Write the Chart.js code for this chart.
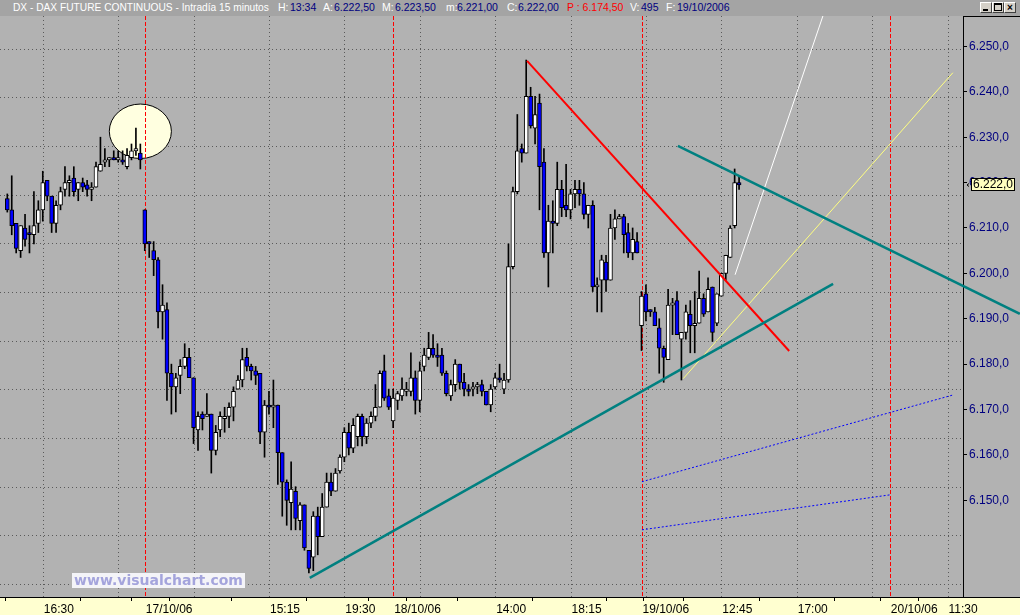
<!DOCTYPE html>
<html lang="es">
<head>
<meta charset="utf-8">
<title>DX - DAX FUTURE CONTINUOUS - Intradía 15 minutos</title>
<script src="https://cdn.jsdelivr.net/npm/chart.js@4.4.1/dist/chart.umd.min.js"></script>
<style>
  html, body { margin: 0; padding: 0; background: #b2b2b2; }
  #wrap { position: relative; width: 1020px; height: 615px; overflow: hidden; background: #b2b2b2; font-family: Arial, "Liberation Sans", sans-serif; }
  #bar { position: absolute; left: 0; top: 0; width: 1020px; height: 16px; background: #a4a4a4; font-size: 10.5px; line-height: 15px; }
  #bar span { position: absolute; top: 0; white-space: nowrap; }
  .lb { color: #ffffff; }
  .vl { color: #000080; }
  .rd { color: #ff0000; }
  .btn { position: absolute; top: 2px; width: 10px; height: 9px; background: #d4d0c8; border: 1px solid; border-color: #ffffff #404040 #404040 #ffffff; }
  #dax { position: absolute; left: 0; top: 16px; }
  #wm { position: absolute; left: 72px; top: 573px; width: 173px; height: 15px; background: #f4f4f8; color: #a4a4dc; font: bold 14px "DejaVu Sans", Verdana, sans-serif; line-height: 15px; text-align: center; }
</style>
</head>
<body>
<div id="wrap">
  <div id="bar">
    <span class="lb" style="left:13px;font-size:10.2px">DX - DAX FUTURE CONTINUOUS - Intradía 15 minutos</span>
    <span class="lb" style="left:278px">H:</span><span class="vl" style="left:290px">13:34</span>
    <span class="lb" style="left:323px">A:</span><span class="vl" style="left:334px">6.222,50</span>
    <span class="lb" style="left:382px">M:</span><span class="vl" style="left:395px">6.223,50</span>
    <span class="lb" style="left:446px">m:</span><span class="vl" style="left:457px">6.221,00</span>
    <span class="lb" style="left:507px">C:</span><span class="vl" style="left:518px">6.222,00</span>
    <span class="rd" style="left:567px">P : 6.174,50</span>
    <span class="lb" style="left:630px">V:</span><span class="vl" style="left:641px">495</span>
    <span class="lb" style="left:666px">F:</span><span class="vl" style="left:677px">19/10/2006</span>
    <div class="btn" style="left:980px"><div style="position:absolute;left:2px;top:6px;width:5px;height:2px;background:#000"></div></div>
    <div class="btn" style="left:992px"><div style="position:absolute;left:1px;top:0px;width:6px;height:5px;border:1px solid #000;border-top-width:2px"></div></div>
    <div class="btn" style="left:1004px;font:bold 10px Arial;line-height:9px;text-align:center;color:#000">&#215;</div>
  </div>
  <canvas id="dax" width="1020" height="599"></canvas>
  <div id="wm">www.visualchart.com</div>
</div>
<script>
// velas de 15 minutos, indice de barra 0..165 (16/10 tarde -> 19/10 13:45)
const opens = [6216.5, 6214.0, 6211.0, 6205.0, 6210.0, 6209.0, 6208.5, 6211.0, 6214.0, 6220.5,
  6217.0, 6211.0, 6215.0, 6218.5, 6220.0, 6221.0, 6218.5, 6220.0, 6219.5, 6218.5,
  6219.0, 6222.5, 6224.5, 6225.0, 6225.5, 6225.0, 6225.0, 6223.5, 6225.5, 6227.0,
  6226.5, 6214.0, 6207.0, 6205.0, 6203.0, 6191.5, 6192.0, 6178.0, 6175.0, 6177.5,
  6179.5, 6181.5, 6177.0, 6165.5, 6169.0, 6168.5, 6169.0, 6161.0, 6165.5, 6168.0,
  6168.5, 6170.5, 6174.5, 6176.5, 6181.5, 6179.5, 6178.5, 6178.0, 6165.0, 6171.0,
  6170.5, 6171.0, 6160.5, 6154.0, 6149.5, 6152.0, 6145.5, 6149.0, 6139.0, 6137.5,
  6146.5, 6142.0, 6148.5, 6154.0, 6152.0, 6156.5, 6159.5, 6165.0, 6161.5, 6164.0,
  6168.5, 6164.0, 6167.0, 6168.5, 6170.5, 6178.5, 6173.0, 6167.5, 6172.0, 6173.0,
  6174.0, 6174.0, 6177.0, 6172.0, 6179.5, 6181.5, 6183.5, 6182.0, 6182.0, 6178.0,
  6173.0, 6175.5, 6180.0, 6176.0, 6174.5, 6174.5, 6175.0, 6175.5, 6174.0, 6171.0,
  6175.0, 6177.0, 6174.5, 6176.5, 6201.5, 6218.0, 6227.5, 6226.5, 6239.0, 6232.0,
  6237.5, 6224.5, 6204.5, 6211.5, 6211.0, 6218.5, 6215.0, 6214.0, 6217.5, 6218.5,
  6217.5, 6213.0, 6215.0, 6197.0, 6198.5, 6202.5, 6198.5, 6210.0, 6212.0, 6212.5,
  6209.0, 6204.5, 6207.0, 6188.5, 6195.5, 6192.0, 6191.5, 6188.0, 6183.5, 6181.0,
  6193.0, 6194.0, 6185.5, 6187.0, 6191.0, 6188.5, 6189.0, 6194.5, 6191.5, 6197.0,
  6189.0, 6195.0, 6200.0, 6203.5, 6210.5, 6220.0];
const highs = [6217.5, 6221.5, 6211.0, 6210.5, 6213.0, 6210.5, 6218.0, 6216.0, 6222.5, 6220.5,
  6217.0, 6216.0, 6219.0, 6223.5, 6221.5, 6223.5, 6220.0, 6221.0, 6220.5, 6220.0,
  6224.5, 6230.0, 6227.5, 6225.5, 6227.0, 6227.0, 6227.0, 6227.5, 6228.5, 6232.0,
  6228.5, 6214.0, 6207.0, 6207.0, 6203.5, 6197.5, 6193.5, 6180.0, 6178.0, 6181.0,
  6184.5, 6183.5, 6177.0, 6169.5, 6169.5, 6173.5, 6169.0, 6166.5, 6169.5, 6170.5,
  6171.5, 6175.0, 6177.5, 6183.5, 6183.5, 6180.0, 6179.5, 6178.0, 6172.0, 6174.0,
  6176.5, 6171.0, 6160.5, 6154.5, 6158.5, 6153.0, 6149.5, 6149.0, 6139.0, 6147.5,
  6148.5, 6151.5, 6156.0, 6156.0, 6157.0, 6160.0, 6166.0, 6167.0, 6168.0, 6169.0,
  6169.0, 6168.0, 6169.5, 6175.5, 6178.5, 6182.0, 6174.5, 6174.5, 6174.0, 6177.0,
  6176.0, 6182.5, 6178.5, 6180.5, 6183.5, 6187.0, 6186.5, 6184.5, 6183.5, 6178.5,
  6176.5, 6181.0, 6180.0, 6178.0, 6175.5, 6176.0, 6176.0, 6176.5, 6174.0, 6175.5,
  6178.0, 6180.0, 6178.0, 6206.5, 6219.0, 6235.0, 6228.5, 6247.0, 6241.0, 6239.0,
  6239.5, 6227.5, 6215.0, 6216.0, 6224.5, 6220.5, 6224.0, 6218.5, 6220.5, 6220.5,
  6220.0, 6215.0, 6216.0, 6199.0, 6204.0, 6204.0, 6213.0, 6214.0, 6213.0, 6213.0,
  6211.0, 6210.0, 6209.0, 6196.0, 6197.5, 6192.0, 6192.5, 6190.0, 6184.0, 6196.5,
  6194.5, 6196.0, 6187.0, 6193.0, 6194.0, 6196.0, 6200.5, 6195.5, 6199.0, 6197.0,
  6195.5, 6200.0, 6204.0, 6210.5, 6223.0, 6221.5];
const lows = [6213.5, 6208.5, 6204.5, 6203.5, 6206.0, 6204.5, 6206.5, 6209.0, 6211.5, 6216.0,
  6209.0, 6209.0, 6214.0, 6217.0, 6217.0, 6217.0, 6216.0, 6218.0, 6217.0, 6216.0,
  6219.0, 6222.5, 6223.5, 6223.5, 6225.0, 6224.5, 6224.0, 6223.0, 6225.0, 6226.0,
  6223.0, 6205.0, 6203.5, 6199.5, 6188.0, 6185.5, 6172.0, 6169.0, 6169.5, 6173.5,
  6179.0, 6177.0, 6162.5, 6161.0, 6165.5, 6168.5, 6156.0, 6160.0, 6164.0, 6165.0,
  6166.0, 6167.5, 6174.5, 6175.0, 6178.5, 6176.5, 6175.5, 6162.5, 6159.5, 6169.0,
  6166.0, 6153.5, 6146.5, 6144.5, 6143.5, 6143.5, 6143.5, 6139.0, 6134.0, 6134.5,
  6138.0, 6142.0, 6148.5, 6151.0, 6152.0, 6156.0, 6158.5, 6160.0, 6160.5, 6162.0,
  6162.0, 6162.5, 6166.0, 6167.5, 6170.5, 6172.0, 6170.0, 6166.0, 6170.0, 6172.0,
  6173.0, 6173.0, 6169.0, 6169.5, 6178.5, 6181.0, 6181.5, 6179.5, 6177.5, 6173.0,
  6172.0, 6174.0, 6174.5, 6173.0, 6173.0, 6173.0, 6173.5, 6173.0, 6171.0, 6169.5,
  6174.5, 6176.0, 6173.5, 6176.0, 6201.0, 6217.5, 6224.5, 6226.5, 6232.0, 6228.5,
  6214.0, 6203.5, 6197.0, 6204.5, 6210.5, 6212.5, 6212.5, 6212.0, 6214.5, 6215.0,
  6212.0, 6210.0, 6196.0, 6191.5, 6191.5, 6196.0, 6198.5, 6207.5, 6212.0, 6204.5,
  6203.5, 6203.0, 6204.5, 6183.0, 6189.5, 6190.5, 6188.5, 6178.0, 6176.0, 6181.0,
  6186.5, 6186.5, 6176.5, 6185.5, 6182.5, 6182.5, 6189.0, 6190.5, 6191.5, 6185.0,
  6188.5, 6195.0, 6198.5, 6203.5, 6210.0, 6218.5];
const closes = [6214.0, 6210.5, 6205.5, 6210.5, 6207.5, 6208.5, 6210.5, 6214.0, 6220.0, 6217.0,
  6211.0, 6215.0, 6218.0, 6220.0, 6220.5, 6218.0, 6220.0, 6219.0, 6218.5, 6219.0,
  6223.5, 6224.0, 6225.0, 6225.5, 6225.0, 6225.5, 6224.5, 6226.0, 6227.0, 6227.5,
  6225.0, 6206.5, 6206.5, 6203.0, 6191.5, 6193.0, 6178.0, 6175.0, 6177.0, 6179.5,
  6181.5, 6177.0, 6166.0, 6168.5, 6168.0, 6169.0, 6161.0, 6165.0, 6168.5, 6168.5,
  6170.5, 6174.0, 6176.5, 6181.0, 6179.5, 6178.5, 6177.5, 6165.0, 6171.0, 6170.5,
  6171.0, 6160.5, 6154.0, 6150.0, 6152.5, 6146.0, 6149.0, 6139.5, 6135.0, 6146.5,
  6142.0, 6148.5, 6154.0, 6152.0, 6156.0, 6159.5, 6165.0, 6161.5, 6166.5, 6168.5,
  6164.0, 6167.0, 6168.5, 6170.5, 6178.0, 6172.5, 6170.5, 6172.5, 6173.5, 6174.5,
  6174.5, 6177.0, 6172.0, 6178.5, 6182.0, 6183.5, 6182.0, 6181.5, 6178.0, 6173.5,
  6175.5, 6180.0, 6176.0, 6174.5, 6174.0, 6175.0, 6175.5, 6174.0, 6171.0, 6174.5,
  6177.0, 6176.5, 6176.5, 6201.5, 6218.0, 6227.0, 6226.5, 6239.0, 6232.5, 6235.0,
  6223.5, 6204.5, 6211.5, 6211.0, 6218.5, 6214.5, 6214.0, 6217.5, 6218.5, 6217.5,
  6213.0, 6215.0, 6197.0, 6197.5, 6203.0, 6198.5, 6210.0, 6212.0, 6212.5, 6208.5,
  6204.5, 6207.5, 6204.5, 6195.0, 6191.5, 6191.5, 6188.5, 6183.5, 6181.5, 6193.0,
  6193.5, 6186.5, 6187.0, 6191.5, 6188.5, 6189.0, 6194.5, 6191.0, 6196.5, 6187.0,
  6195.5, 6200.0, 6204.0, 6210.0, 6220.0, 6219.5];

// eje de tiempo: indice de barra -> etiqueta
const xTickIdx  = [8, 25, 31, 42, 59, 76, 87, 93, 110, 127, 143, 144, 161, 178, 195, 199, 212];
const xTickText = ['16:30', '', '17/10/06', '', '15:15', '19:30', '18/10/06', '', '14:00', '18:15', '19/10/06', '', '12:45', '17:00', '', '20/10/06', '11:30'];
const dayStarts = [31, 87, 143, 199];
const priceTicks = [6150, 6160, 6170, 6180, 6190, 6200, 6210, 6220, 6230, 6240, 6250];
const lastPrice = 6222.0;

// dibujos del usuario [barra, precio]
const tealLow    = [[68.2, 6132.9], [186.2, 6197.7]];
const tealHigh   = [[151.2, 6228.1], [228.3, 6191.1]];
const redLine    = [[117.2, 6246.8], [176.3, 6182.9]];
const whiteLine  = [[164.1, 6199.7], [183.9, 6256.7]];
const yellowLine = [[152.4, 6176.8], [213.2, 6244.2]];
const blueDots1  = [[143.1, 6154.1], [213.2, 6173.2]];
const blueDots2  = [[143.1, 6143.5], [199.0, 6151.2]];
const circleMark = [30.0, 6231.3, 7.0, 6.0]; // centro barra, centro precio, semi-ancho, semi-alto

const xMin = -1.646, xMax = 215.49;
const yMin = 6128.7, yMax = 6256.7;
const hGridStart = 6249.52, hGridStep = 10.72;

const pts = a => a.map(p => ({x: p[0], y: p[1]}));
const fmt = v => {
  const s = v.toFixed(1).replace('.', ',');
  return s.slice(0, -5) + '.' + s.slice(-5);
};

function line(data, color, width, dash, clip) {
  return {type: 'line', data: pts(data), borderColor: color, borderWidth: width, borderDash: dash || [],
    pointRadius: 0, fill: false, order: 0, clip: clip === undefined ? 2 : clip};
}

function vline(c, px, top, bottom) {
  c.beginPath();
  c.moveTo(px, top);
  c.lineTo(px, bottom);
  c.stroke();
}

const decor = {
  id: 'decor',
  beforeDraw(chart) {
    const c = chart.ctx, a = chart.chartArea;
    c.save();
    c.fillStyle = '#b2b2b2';
    c.fillRect(0, 0, chart.width, chart.height);
    c.fillStyle = '#ffffd0';
    c.fillRect(0, a.bottom, chart.width, chart.height - a.bottom);
    c.restore();
  },
  beforeDatasetsDraw(chart) {
    const c = chart.ctx, a = chart.chartArea, x = chart.scales.x, y = chart.scales.y;
    // rejilla punteada
    c.save();
    c.lineWidth = 1;
    c.strokeStyle = '#5a5a5a';
    c.setLineDash([1, 3]);
    xTickIdx.forEach(i => {
      if (dayStarts.includes(i)) return;
      vline(c, Math.round(x.getPixelForValue(i)) + 0.5, a.top, a.bottom);
    });
    for (let v = hGridStart; v > yMin; v -= hGridStep) {
      const py = Math.round(y.getPixelForValue(v)) + 0.5;
      c.beginPath();
      c.moveTo(a.left, py);
      c.lineTo(a.right, py);
      c.stroke();
    }
    c.restore();

    // elipse
    c.save();
    const cx = x.getPixelForValue(circleMark[0]), cy = y.getPixelForValue(circleMark[1]);
    const rx = Math.abs(x.getPixelForValue(circleMark[0] + circleMark[2]) - cx);
    const ry = Math.abs(y.getPixelForValue(circleMark[1] + circleMark[3]) - cy);
    c.beginPath();
    c.ellipse(cx, cy, rx, ry, 0, 0, Math.PI * 2);
    c.fillStyle = '#ffffe0';
    c.fill();
    c.lineWidth = 1;
    c.strokeStyle = '#000000';
    c.stroke();
    c.restore();

    // cambios de dia
    c.save();
    c.lineWidth = 1;
    c.strokeStyle = 'rgb(255,0,0)';
    c.setLineDash([4, 2]);
    dayStarts.forEach(i => {
      vline(c, Math.round(x.getPixelForValue(i)) + 0.5, a.top, a.bottom);
    });
    c.restore();
  },
  afterDraw(chart) {
    const c = chart.ctx, a = chart.chartArea, y = chart.scales.y;
    c.save();
    c.strokeStyle = '#000';
    c.lineWidth = 1;
    c.beginPath();
    c.moveTo(0, a.bottom + 0.5); c.lineTo(chart.width, a.bottom + 0.5);
    c.moveTo(a.right, 0.5); c.lineTo(chart.width, 0.5);
    c.stroke();
    // etiqueta ultimo precio
    const py = Math.round(y.getPixelForValue(closes[closes.length - 1]));
    c.fillStyle = '#ffffc0';
    c.fillRect(a.right + 8.5, py - 6.5, 43, 12);
    c.strokeRect(a.right + 8.5, py - 6.5, 43, 12);
    c.beginPath();
    c.moveTo(a.right + 6, py - 1.5); c.lineTo(a.right + 4, py); c.lineTo(a.right + 6, py + 1.5);
    c.stroke();
    c.fillStyle = '#000';
    c.font = '12px Arial';
    c.textBaseline = 'middle';
    c.fillText(fmt(lastPrice), a.right + 10, py);
    c.restore();
  }
};

new Chart(document.getElementById('dax').getContext('2d'), {
  type: 'bar',
  data: {
    datasets: [
      line(tealLow, '#008080', 2.5),
      line(tealHigh, '#008080', 2.5, null, {left: 0, top: 0, right: 60, bottom: 0}),
      line(redLine, '#ff0000', 2),
      line(whiteLine, '#ffffff', 1),
      line(yellowLine, '#ffff80', 1),
      line(blueDots1, '#0000ff', 1, [2, 2]),
      line(blueDots2, '#0000ff', 1, [2, 2]),
      {
        label: 'cuerpos',
        data: opens.map((o, i) => ({x: i, y: [o, closes[i]]})),
        backgroundColor: opens.map((o, i) => closes[i] >= o ? '#ffffff' : '#0000ff'),
        borderColor: '#000000',
        borderWidth: 1,
        borderSkipped: false,
        barThickness: 4,
        minBarLength: 2,
        grouped: false,
        order: 1
      },
      {
        label: 'mechas',
        data: lows.map((l, i) => ({x: i, y: [l, highs[i]]})),
        backgroundColor: '#000000',
        borderWidth: 0,
        barThickness: 1,
        grouped: false,
        order: 2
      }
    ]
  },
  options: {
    responsive: false,
    animation: false,
    devicePixelRatio: 1,
    events: [],
    layout: { padding: 0 },
    plugins: { legend: { display: false }, tooltip: { enabled: false } },
    scales: {
      x: {
        type: 'linear', position: 'bottom', min: xMin, max: xMax, offset: false,
        afterBuildTicks: s => { s.ticks = xTickIdx.map(v => ({value: v})); },
        afterFit: s => { s.height = 18; s.paddingLeft = 0; s.paddingRight = 0; },
        grid: { drawOnChartArea: false, drawTicks: true, tickLength: 4, tickColor: '#000' },
        border: { display: true, color: '#000', width: 1 },
        ticks: { autoSkip: false, maxRotation: 0, align: 'start', padding: 1, labelOffset: 1, color: '#000',
          font: { family: 'Arial', size: 12 }, callback: (v, i) => xTickText[i] }
      },
      y: {
        type: 'linear', position: 'right', min: yMin, max: yMax,
        afterBuildTicks: s => { s.ticks = priceTicks.map(v => ({value: v})); },
        afterFit: s => { s.width = 57; s.paddingTop = 0; s.paddingBottom = 0; },
        grid: { drawOnChartArea: false, drawTicks: true, tickLength: 4, tickColor: '#000' },
        border: { display: true, color: '#000', width: 1 },
        ticks: { color: '#000080', padding: 2, font: { family: 'Arial', size: 12 }, callback: v => fmt(v) }
      }
    }
  },
  plugins: [decor]
});
</script>
</body>
</html>
